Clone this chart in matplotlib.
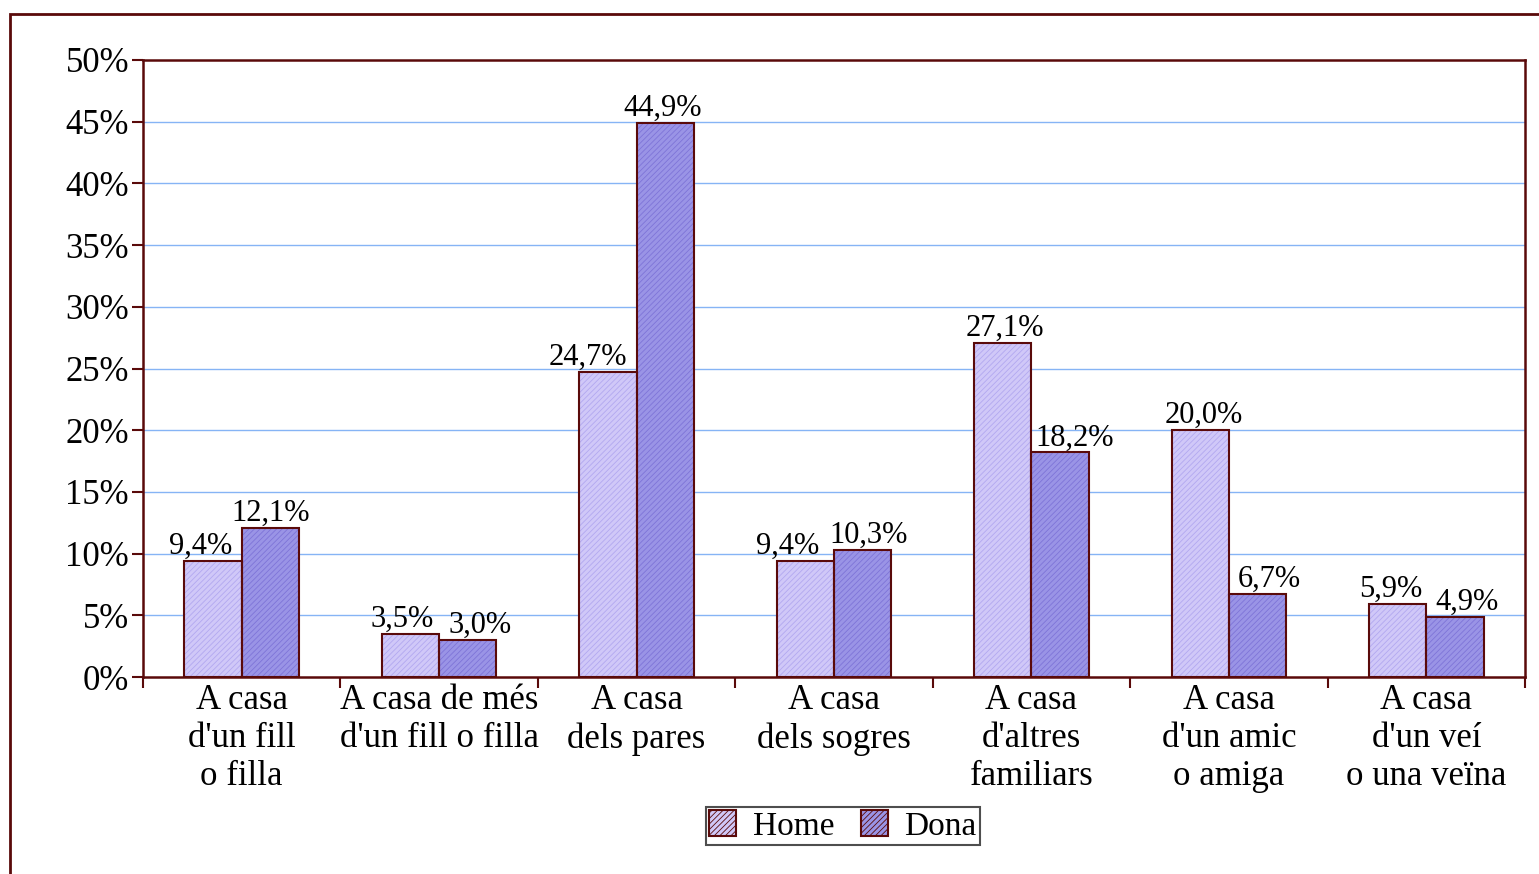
import matplotlib
matplotlib.use("Agg")
import matplotlib.pyplot as plt
import numpy as np
from matplotlib.patches import Rectangle, Patch

categories = ["A casa\nd'un fill\no filla", "A casa de més\nd'un fill o filla", "A casa\ndels pares",
              "A casa\ndels sogres", "A casa\nd'altres\nfamiliars", "A casa\nd'un amic\no amiga",
              "A casa\nd'un veí\no una veïna"]
home = [9.4, 3.5, 24.7, 9.4, 27.1, 20.0, 5.9]
dona = [12.1, 3.0, 44.9, 10.3, 18.2, 6.7, 4.9]
home_labels = ["9,4%", "3,5%", "24,7%", "9,4%", "27,1%", "20,0%", "5,9%"]
dona_labels = ["12,1%", "3,0%", "44,9%", "10,3%", "18,2%", "6,7%", "4,9%"]
yticks = [0, 5, 10, 15, 20, 25, 30, 35, 40, 45, 50]
series_names = ["Home", "Dona"]

plt.rcParams['font.family'] = ['Liberation Serif', 'DejaVu Serif']
plt.rcParams['hatch.linewidth'] = 0.6

W, H = 1539, 874
fig = plt.figure(figsize=(W / 100, H / 100), dpi=100)
ax = fig.add_axes([143 / W, 1 - 677 / H, (1525 - 143) / W, (677 - 60) / H])

edge = '#5a0a0a'
home_fc, home_hc = '#d0c8f8', '#b2a8f0'
dona_fc, dona_hc = '#9a94e6', '#7e74d8'

x = np.arange(len(categories))
bw = 0.29
for xs, vals, fc, hc in [(x - bw / 2, home, home_fc, home_hc), (x + bw / 2, dona, dona_fc, dona_hc)]:
    ax.bar(xs, vals, bw, color=fc, edgecolor=hc, hatch='//////', linewidth=0, zorder=3)
    ax.bar(xs, vals, bw, facecolor='none', edgecolor=edge, linewidth=1.5, zorder=4)

# value labels (small horizontal nudges in points to avoid overlap)
home_dx = [-12, -8, -20, -18, 2, 4, -7]
dona_dx = [0, 12, -3, 6, 15, 12, 12]
for i in range(len(categories)):
    ax.annotate(home_labels[i], (x[i] - bw / 2, home[i]), xytext=(home_dx[i] * 0.72, 0),
                textcoords='offset points', ha='center', va='bottom', fontsize=22, zorder=5)
    ax.annotate(dona_labels[i], (x[i] + bw / 2, dona[i]), xytext=(dona_dx[i] * 0.72, 0),
                textcoords='offset points', ha='center', va='bottom', fontsize=22, zorder=5)

ax.set_xlim(-0.5, len(categories) - 0.5)
ax.set_ylim(0, 50)
ax.set_yticks(yticks)
ax.set_yticklabels([f"{v}%" for v in yticks], fontsize=25)
ax.set_xticks(x)
ax.set_xticklabels(categories, fontsize=25, linespacing=1.2)
ax.tick_params(axis='x', which='major', length=0, pad=5)
ax.set_xticks(np.arange(-0.5, len(categories), 1), minor=True)
ax.tick_params(axis='x', which='minor', length=8, width=1.5, color=edge, direction='out')
ax.tick_params(axis='y', length=8, width=1.5, color=edge, direction='out', pad=2)
for lbl in ax.get_yticklabels():
    lbl.set_verticalalignment('center_baseline')

for y in yticks[1:-1]:
    ax.axhline(y, color='#86b4f5', linewidth=1.0, zorder=1)
for s in ax.spines.values():
    s.set_color(edge)
    s.set_linewidth(1.8)

handles = [Patch(facecolor=home_fc, edgecolor=edge, hatch='//////', linewidth=1.5),
           Patch(facecolor=dona_fc, edgecolor=edge, hatch='//////', linewidth=1.5)]
leg = fig.legend(handles, series_names, loc='center', bbox_to_anchor=(843 / W, 1 - 826 / H),
                 ncol=2, fontsize=24, frameon=True, fancybox=False, edgecolor='#222222',
                 handlelength=0.8, handleheight=0.8, handletextpad=0.5, columnspacing=0.8,
                 borderpad=0.1)
leg.get_frame().set_linewidth(1.5)

fig.patches.append(Rectangle((10 / W, -0.1), 1.2, 1 - 14 / H + 0.1, transform=fig.transFigure,
                             fill=False, edgecolor=edge, linewidth=2))

fig.savefig('out.png', dpi=100)
